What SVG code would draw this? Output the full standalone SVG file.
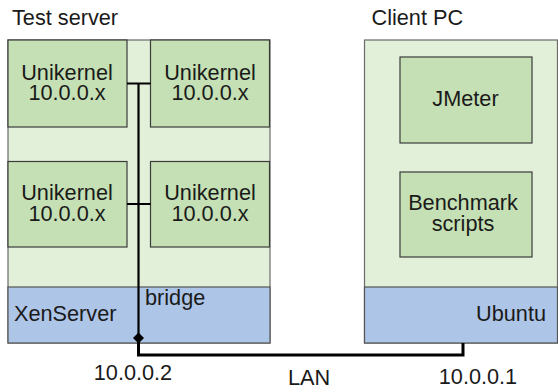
<svg xmlns="http://www.w3.org/2000/svg" width="558" height="392" viewBox="0 0 558 392">
<style>
text{font-family:"Liberation Sans",Arial,sans-serif;font-size:21.7px;fill:#1a1a1a}
.c{text-anchor:middle}
.bg{fill:#e2efd9;stroke:#6b6b6b;stroke-width:1.2}
.os{fill:#adc5e7;stroke:#555;stroke-width:1.2}
.box{fill:#c5e0b4;stroke:#3b3b3b;stroke-width:1.2}
.w{fill:none;stroke:#000;stroke-linejoin:miter}
</style>
<rect width="558" height="392" fill="#fff"/>
<g id="test-server">
<rect class="bg" x="8" y="40" width="262" height="303"/>
<text x="12" y="25">Test server</text>
</g>
<g id="xenserver">
<rect class="os" x="8" y="287" width="262" height="56"/>
<text x="14" y="320.5">XenServer</text>
</g>
<g id="unikernel-1">
<rect class="box" x="8" y="40" width="119" height="87"/>
<text class="c" x="67" y="79.5">Unikernel</text>
<text class="c" x="67" y="100">10.0.0.x</text>
</g>
<g id="unikernel-2">
<rect class="box" x="150.5" y="40" width="119" height="87"/>
<text class="c" x="210" y="79.5">Unikernel</text>
<text class="c" x="210" y="100">10.0.0.x</text>
</g>
<g id="unikernel-3">
<rect class="box" x="8" y="161.5" width="119" height="85.5"/>
<text class="c" x="67" y="200">Unikernel</text>
<text class="c" x="67" y="220.5">10.0.0.x</text>
</g>
<g id="unikernel-4">
<rect class="box" x="150.5" y="161.5" width="119" height="85.5"/>
<text class="c" x="210" y="200">Unikernel</text>
<text class="c" x="210" y="220.5">10.0.0.x</text>
</g>
<g id="client-pc">
<rect class="bg" x="364.5" y="40" width="193" height="303"/>
<text x="371.5" y="25">Client PC</text>
</g>
<g id="ubuntu">
<rect class="os" x="364.5" y="287" width="193" height="56"/>
<text x="546" y="320.5" text-anchor="end">Ubuntu</text>
</g>
<g id="jmeter">
<rect class="box" x="400" y="57" width="132" height="86"/>
<text class="c" x="465.5" y="106">JMeter</text>
</g>
<g id="benchmark-scripts">
<rect class="box" x="400" y="172" width="132" height="85"/>
<text class="c" x="463" y="210">Benchmark</text>
<text class="c" x="463" y="231">scripts</text>
</g>
<g id="connectors">
<path class="w" stroke-width="2.2" d="M138.5 83.5V338M127 83.5H150.5M127 204H150.5"/>
<path class="w" stroke-width="3" d="M138.5 338V355H463V343"/>
<path d="M138.5 332.5L144 338L138.5 343.5L133 338Z" fill="#000"/>
</g>
<g id="labels">
<text x="145" y="304.5">bridge</text>
<text class="c" x="133" y="379.5">10.0.0.2</text>
<text class="c" x="309" y="385">LAN</text>
<text class="c" x="478" y="384">10.0.0.1</text>
</g>
</svg>
